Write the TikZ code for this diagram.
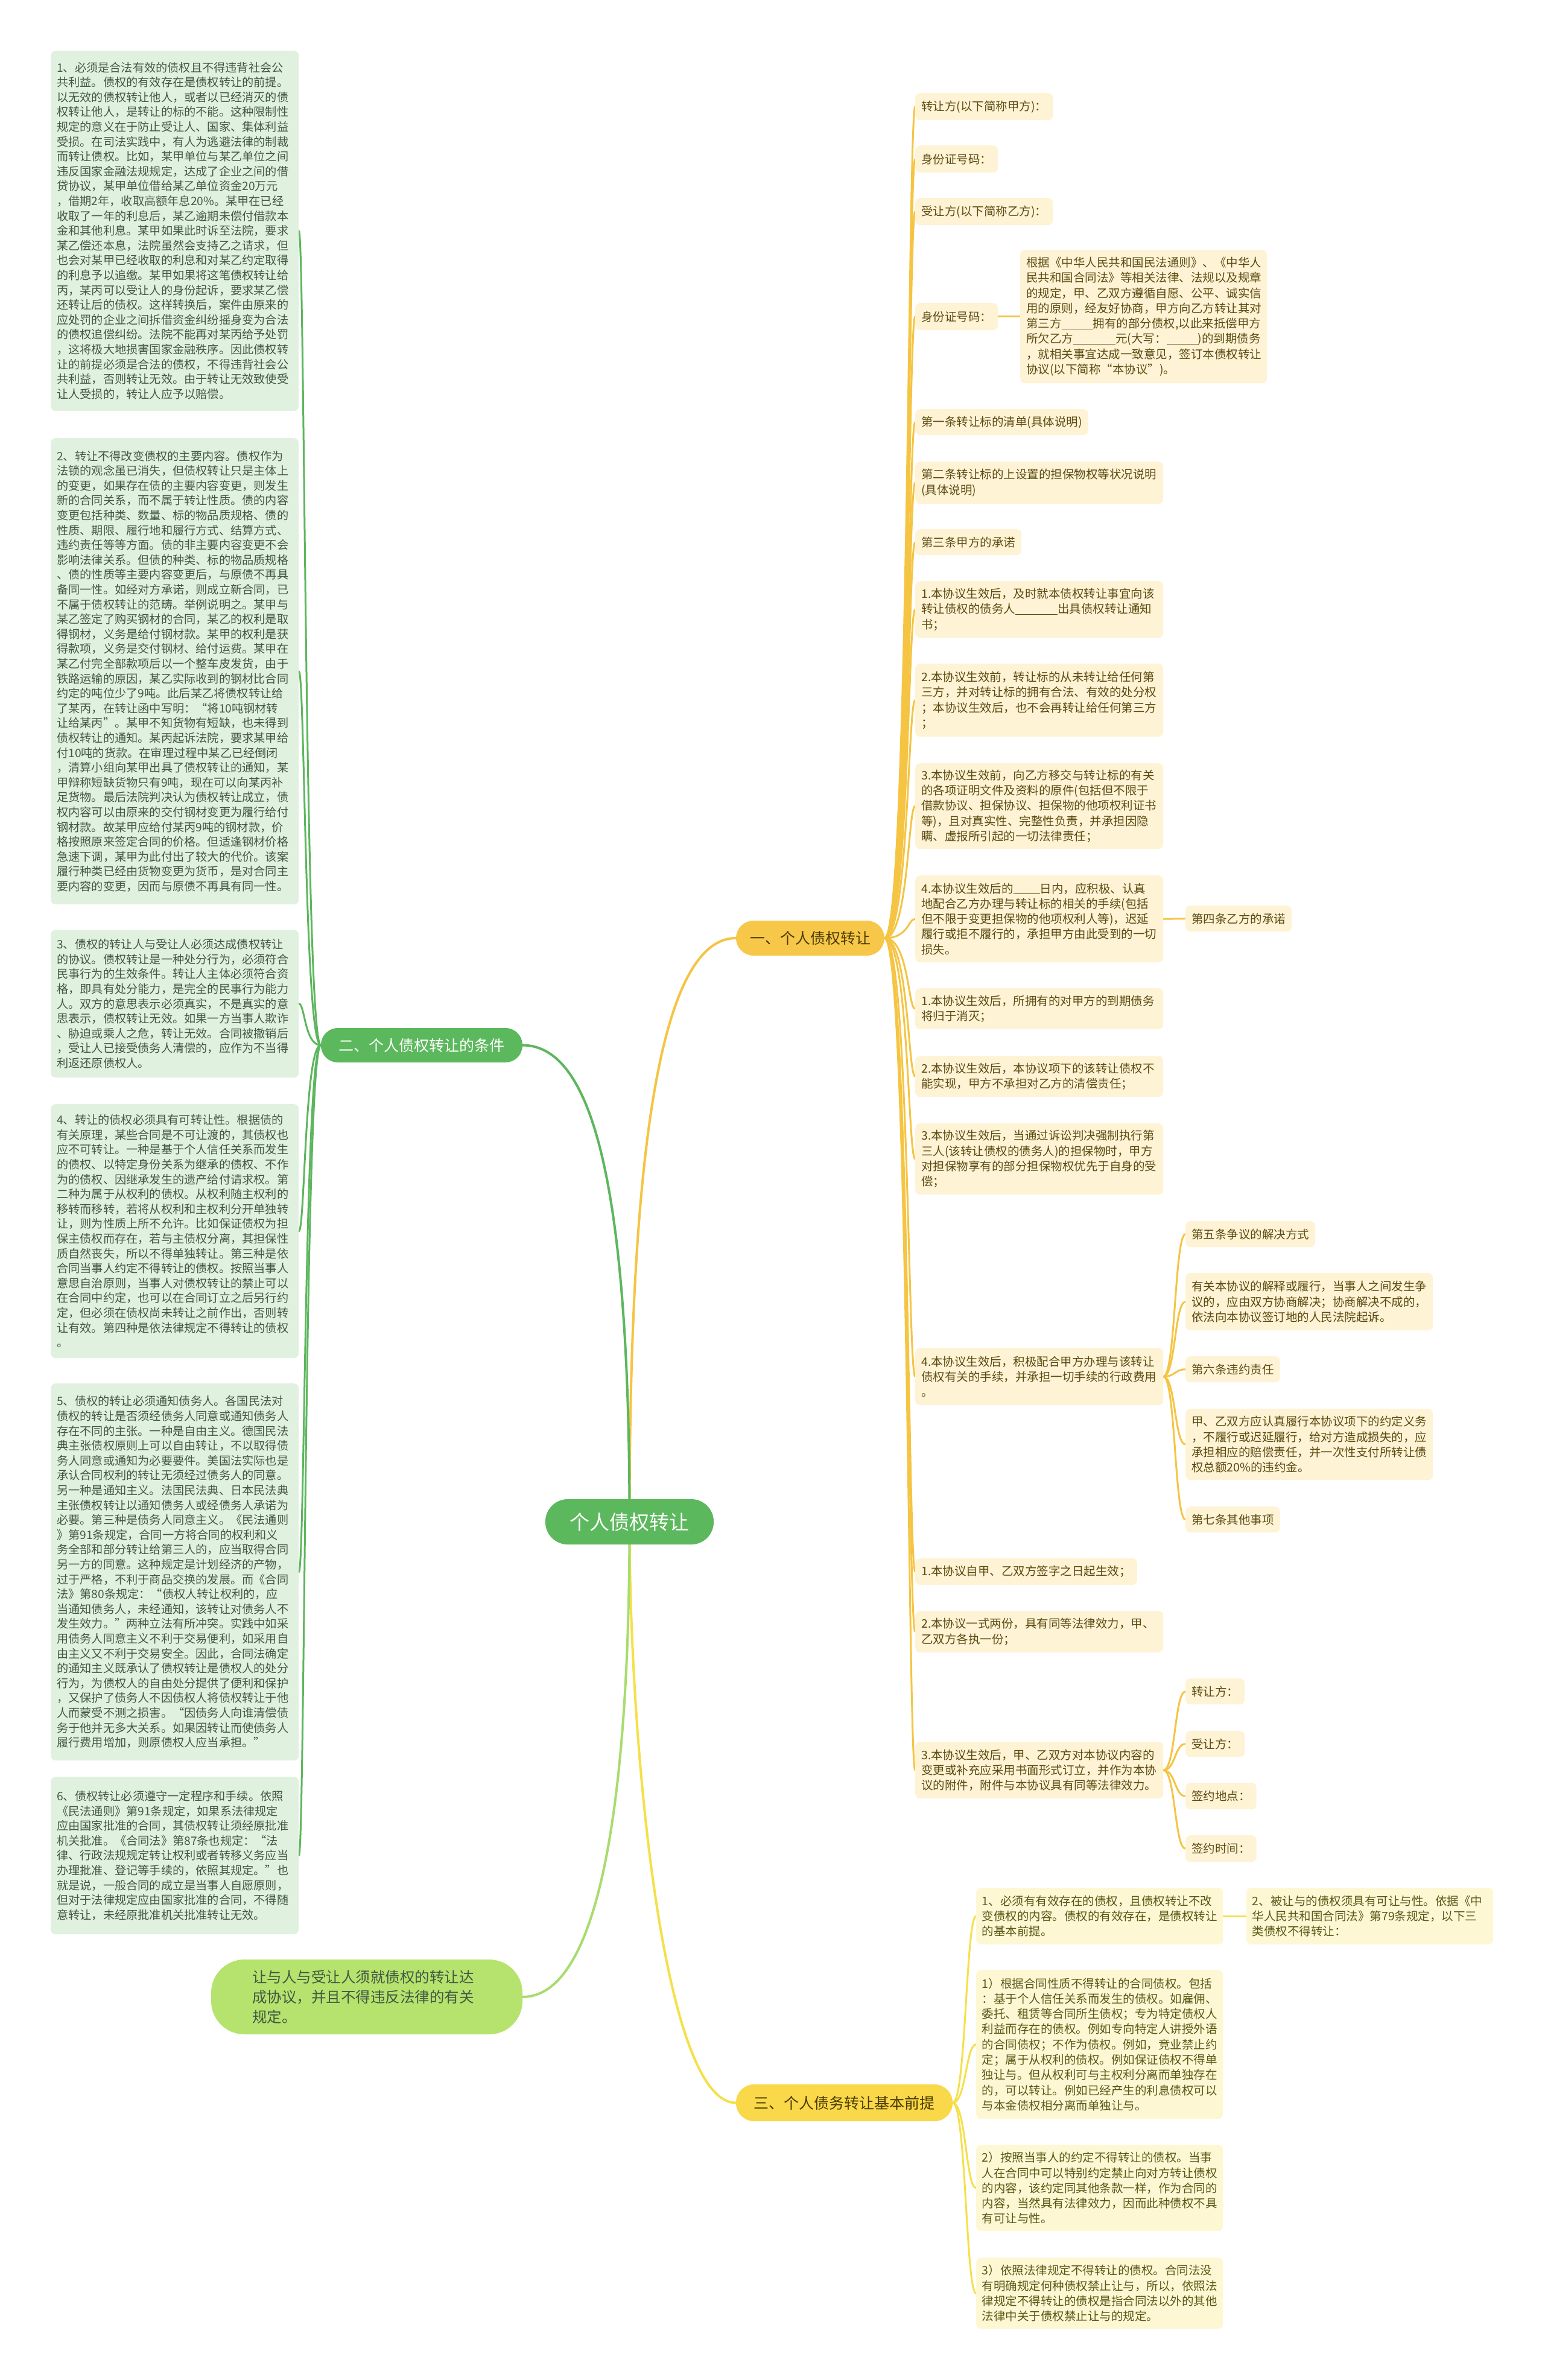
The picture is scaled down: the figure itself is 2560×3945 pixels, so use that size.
\documentclass[tikz,border=0pt]{standalone}
\usepackage{fontspec}
\newfontfamily\cjk{Noto Sans CJK SC}
\usetikzlibrary{calc}
\hyphenpenalty=10000 \exhyphenpenalty=10000
\definecolor{gmain}{HTML}{5CB85C}
\definecolor{gline}{HTML}{5DB65E}
\definecolor{limefill}{HTML}{B6E36E}
\definecolor{limeline}{HTML}{A8DC6E}
\definecolor{goldfill}{HTML}{F7C74A}
\definecolor{goldline}{HTML}{F5C443}
\definecolor{yelfill}{HTML}{F9D84A}
\definecolor{yelline}{HTML}{F5E04A}
\definecolor{lfill}{HTML}{E1F1DF}
\definecolor{ltext}{HTML}{425842}
\definecolor{rfill}{HTML}{FEF3D4}
\definecolor{rtext}{HTML}{5B4A12}
\definecolor{yfill}{HTML}{FDF8D3}
\definecolor{ytext}{HTML}{5A5716}
\definecolor{btext}{HTML}{4A3B00}
\newcommand{\ulfill}[1]{\rule[-0.12em]{#1}{1.3pt}}
\newcommand{\lfont}{\cjk\fontsize{19.2}{24.6}\selectfont}
\newcommand{\rfont}{\cjk\fontsize{19.5}{25.3}\selectfont}
\pgfdeclarelayer{bg}
\pgfsetlayers{bg,main}
\tikzset{
  lbox/.style={fill=lfill, rounded corners=8pt, text=ltext, font=\lfont, align=left, text width=391pt, inner xsep=10pt, inner ysep=0pt, anchor=north west},
  rbox/.style={fill=rfill, rounded corners=8pt, text=rtext, font=\rfont, align=left, inner xsep=10pt, inner ysep=0pt, anchor=north west},
  rwide/.style={rbox, text width=391pt},
  ybox/.style={fill=yfill, rounded corners=8pt, text=ytext, font=\rfont, align=left, text width=390pt, inner xsep=9.5pt, inner ysep=0pt, anchor=north west},
  mainnode/.style={fill=gmain, text=white, align=center, inner sep=0pt},
  treeline/.style={line width=3pt, line cap=round},
  rootline/.style={line width=4pt, line cap=round}
}
\begin{document}
\begin{tikzpicture}[x=1pt,y=-1pt]
\begin{pgfonlayer}{bg}
\fill[white] (0,0) rectangle (2560,3945);
\end{pgfonlayer}
\useasboundingbox (0,0) rectangle (2560,3945);

% ---------- main nodes ----------
\node[mainnode, rounded corners=37pt, minimum width=279pt, minimum height=75pt, font=\cjk\fontsize{33}{38}\selectfont] (root) at (1043.5,2522.5) {个人债权转让};
\node[mainnode, rounded corners=28pt, minimum width=334pt, minimum height=57pt, font=\cjk\fontsize{25}{30}\selectfont] (b2) at (699,1732.5) {二、个人债权转让的条件};
\node[fill=goldfill, text=btext, rounded corners=29pt, minimum width=246pt, minimum height=58pt, inner sep=0pt, font=\cjk\fontsize{25}{30}\selectfont] (b1) at (1343,1555) {一、个人债权转让};
\node[fill=yelfill, text=btext, rounded corners=30pt, minimum width=359pt, minimum height=61pt, inner sep=0pt, font=\cjk\fontsize{25}{30}\selectfont] (b3) at (1399.5,3485.5) {三、个人债务转让基本前提};
\node[fill=limefill, text=ltext, rounded corners=55pt, minimum width=516pt, minimum height=124pt, inner sep=0pt, text width=380pt, align=left, font=\cjk\fontsize{24.5}{33}\selectfont] (b4) at (608,3310) {让与人与受让人须就债权的转让达\\%
成协议，并且不得违反法律的有关\\%
规定。};

% ---------- left column ----------
\node[lbox, minimum height=597pt] (l1) at (84,84) {1、必须是合法有效的债权且不得违背社会公\\%
共利益。债权的有效存在是债权转让的前提。\\%
以无效的债权转让他人，或者以已经消灭的债\\%
权转让他人，是转让的标的不能。这种限制性\\%
规定的意义在于防止受让人、国家、集体利益\\%
受损。在司法实践中，有人为逃避法律的制裁\\%
而转让债权。比如，某甲单位与某乙单位之间\\%
违反国家金融法规规定，达成了企业之间的借\\%
贷协议，某甲单位借给某乙单位资金20万元\\%
，借期2年，收取高额年息20\%。某甲在已经\\%
收取了一年的利息后，某乙逾期未偿付借款本\\%
金和其他利息。某甲如果此时诉至法院，要求\\%
某乙偿还本息，法院虽然会支持乙之请求，但\\%
也会对某甲已经收取的利息和对某乙约定取得\\%
的利息予以追缴。某甲如果将这笔债权转让给\\%
丙，某丙可以受让人的身份起诉，要求某乙偿\\%
还转让后的债权。这样转换后，案件由原来的\\%
应处罚的企业之间拆借资金纠纷摇身变为合法\\%
的债权追偿纠纷。法院不能再对某丙给予处罚\\%
，这将极大地损害国家金融秩序。因此债权转\\%
让的前提必须是合法的债权，不得违背社会公\\%
共利益，否则转让无效。由于转让无效致使受\\%
让人受损的，转让人应予以赔偿。};

\node[lbox, minimum height=773pt] (l2) at (84,726) {2、转让不得改变债权的主要内容。债权作为\\%
法锁的观念虽已消失，但债权转让只是主体上\\%
的变更，如果存在债的主要内容变更，则发生\\%
新的合同关系，而不属于转让性质。债的内容\\%
变更包括种类、数量、标的物品质规格、债的\\%
性质、期限、履行地和履行方式、结算方式、\\%
违约责任等等方面。债的非主要内容变更不会\\%
影响法律关系。但债的种类、标的物品质规格\\%
、债的性质等主要内容变更后，与原债不再具\\%
备同一性。如经对方承诺，则成立新合同，已\\%
不属于债权转让的范畴。举例说明之。某甲与\\%
某乙签定了购买钢材的合同，某乙的权利是取\\%
得钢材，义务是给付钢材款。某甲的权利是获\\%
得款项，义务是交付钢材、给付运费。某甲在\\%
某乙付完全部款项后以一个整车皮发货，由于\\%
铁路运输的原因，某乙实际收到的钢材比合同\\%
约定的吨位少了9吨。此后某乙将债权转让给\\%
了某丙，在转让函中写明：“将10吨钢材转\\%
让给某丙”。某甲不知货物有短缺，也未得到\\%
债权转让的通知。某丙起诉法院，要求某甲给\\%
付10吨的货款。在审理过程中某乙已经倒闭\\%
，清算小组向某甲出具了债权转让的通知，某\\%
甲辩称短缺货物只有9吨，现在可以向某丙补\\%
足货物。最后法院判决认为债权转让成立，债\\%
权内容可以由原来的交付钢材变更为履行给付\\%
钢材款。故某甲应给付某丙9吨的钢材款，价\\%
格按照原来签定合同的价格。但适逢钢材价格\\%
急速下调，某甲为此付出了较大的代价。该案\\%
履行种类已经由货物变更为货币，是对合同主\\%
要内容的变更，因而与原债不再具有同一性。};

\node[lbox, minimum height=245pt] (l3) at (84,1541) {3、债权的转让人与受让人必须达成债权转让\\%
的协议。债权转让是一种处分行为，必须符合\\%
民事行为的生效条件。转让人主体必须符合资\\%
格，即具有处分能力，是完全的民事行为能力\\%
人。双方的意思表示必须真实，不是真实的意\\%
思表示，债权转让无效。如果一方当事人欺诈\\%
、胁迫或乘人之危，转让无效。合同被撤销后\\%
，受让人已接受债务人清偿的，应作为不当得\\%
利返还原债权人。};

\node[lbox, minimum height=421pt] (l4) at (84,1830) {4、转让的债权必须具有可转让性。根据债的\\%
有关原理，某些合同是不可让渡的，其债权也\\%
应不可转让。一种是基于个人信任关系而发生\\%
的债权、以特定身份关系为继承的债权、不作\\%
为的债权、因继承发生的遗产给付请求权。第\\%
二种为属于从权利的债权。从权利随主权利的\\%
移转而移转，若将从权利和主权利分开单独转\\%
让，则为性质上所不允许。比如保证债权为担\\%
保主债权而存在，若与主债权分离，其担保性\\%
质自然丧失，所以不得单独转让。第三种是依\\%
合同当事人约定不得转让的债权。按照当事人\\%
意思自治原则，当事人对债权转让的禁止可以\\%
在合同中约定，也可以在合同订立之后另行约\\%
定，但必须在债权尚未转让之前作出，否则转\\%
让有效。第四种是依法律规定不得转让的债权\\%
。};

\node[lbox, minimum height=625pt] (l5) at (84,2293) {5、债权的转让必须通知债务人。各国民法对\\%
债权的转让是否须经债务人同意或通知债务人\\%
存在不同的主张。一种是自由主义。德国民法\\%
典主张债权原则上可以自由转让，不以取得债\\%
务人同意或通知为必要要件。美国法实际也是\\%
承认合同权利的转让无须经过债务人的同意。\\%
另一种是通知主义。法国民法典、日本民法典\\%
主张债权转让以通知债务人或经债务人承诺为\\%
必要。第三种是债务人同意主义。《民法通则\\%
》第91条规定，合同一方将合同的权利和义\\%
务全部和部分转让给第三人的，应当取得合同\\%
另一方的同意。这种规定是计划经济的产物，\\%
过于严格，不利于商品交换的发展。而《合同\\%
法》第80条规定：“债权人转让权利的，应\\%
当通知债务人，未经通知，该转让对债务人不\\%
发生效力。”两种立法有所冲突。实践中如采\\%
用债务人同意主义不利于交易便利，如采用自\\%
由主义又不利于交易安全。因此，合同法确定\\%
的通知主义既承认了债权转让是债权人的处分\\%
行为，为债权人的自由处分提供了便利和保护\\%
，又保护了债务人不因债权人将债权转让于他\\%
人而蒙受不测之损害。“因债务人向谁清偿债\\%
务于他并无多大关系。如果因转让而使债务人\\%
履行费用增加，则原债权人应当承担。”};

\node[lbox, minimum height=261pt] (l6) at (84,2945) {6、债权转让必须遵守一定程序和手续。依照\\%
《民法通则》第91条规定，如果系法律规定\\%
应由国家批准的合同，其债权转让须经原批准\\%
机关批准。《合同法》第87条也规定：“法\\%
律、行政法规规定转让权利或者转移义务应当\\%
办理批准、登记等手续的，依照其规定。”也\\%
就是说，一般合同的成立是当事人自愿原则，\\%
但对于法律规定应由国家批准的合同，不得随\\%
意转让，未经原批准机关批准转让无效。};

% ---------- right column (branch 1) ----------
\node[rbox, minimum height=45pt] (c1) at (1517,154) {转让方(以下简称甲方)：};
\node[rbox, minimum height=45pt] (c2) at (1517,241) {身份证号码：};
\node[rbox, minimum height=45pt] (c3) at (1517,328) {受让方(以下简称乙方)：};
\node[rbox, minimum height=45pt] (c4) at (1517,502) {身份证号码：};
\node[rbox, text width=389pt, minimum height=221pt] (c4x) at (1691,414) {根据《中华人民共和国民法通则》、《中华人\\%
民共和国合同法》等相关法律、法规以及规章\\%
的规定，甲、乙双方遵循自愿、公平、诚实信\\%
用的原则，经友好协商，甲方向乙方转让其对\\%
第三方\ulfill{52pt}拥有的部分债权,以此来抵偿甲方\\%
所欠乙方\ulfill{70pt}元(大写：\ulfill{52pt})的到期债务\\%
，就相关事宜达成一致意见，签订本债权转让\\%
协议(以下简称“本协议”)。};
\node[rbox, minimum height=43pt] (c5) at (1517,678) {第一条转让标的清单(具体说明)};
\node[rwide, minimum height=70pt] (c6) at (1517,765) {第二条转让标的上设置的担保物权等状况说明\\%
(具体说明)};
\node[rbox, minimum height=43pt] (c7) at (1517,877) {第三条甲方的承诺};
\node[rwide, minimum height=94pt] (c8) at (1517,963) {1.本协议生效后，及时就本债权转让事宜向该\\%
转让债权的债务人\ulfill{70pt}出具债权转让通知\\%
书；};
\node[rwide, minimum height=121pt] (c9) at (1517,1100) {2.本协议生效前，转让标的从未转让给任何第\\%
三方，并对转让标的拥有合法、有效的处分权\\%
；本协议生效后，也不会再转让给任何第三方\\%
；};
\node[rwide, minimum height=142pt] (c10) at (1517,1265) {3.本协议生效前，向乙方移交与转让标的有关\\%
的各项证明文件及资料的原件(包括但不限于\\%
借款协议、担保协议、担保物的他项权利证书\\%
等)，且对真实性、完整性负责，并承担因隐\\%
瞒、虚报所引起的一切法律责任；};
\node[rwide, minimum height=144pt] (c11) at (1517,1451) {4.本协议生效后的\ulfill{44pt}日内，应积极、认真\\%
地配合乙方办理与转让标的相关的手续(包括\\%
但不限于变更担保物的他项权利人等)，迟延\\%
履行或拒不履行的，承担甲方由此受到的一切\\%
损失。};
\node[rbox, minimum height=43pt] (c11x) at (1965,1501) {第四条乙方的承诺};
\node[rwide, minimum height=68pt] (c12) at (1517,1638) {1.本协议生效后，所拥有的对甲方的到期债务\\%
将归于消灭；};
\node[rwide, minimum height=68pt] (c13) at (1517,1750) {2.本协议生效后，本协议项下的该转让债权不\\%
能实现，甲方不承担对乙方的清偿责任；};
\node[rwide, minimum height=118pt] (c14) at (1517,1862) {3.本协议生效后，当通过诉讼判决强制执行第\\%
三人(该转让债权的债务人)的担保物时，甲方\\%
对担保物享有的部分担保物权优先于自身的受\\%
偿；};
\node[rwide, minimum height=95pt] (c15) at (1517,2234) {4.本协议生效后，积极配合甲方办理与该转让\\%
债权有关的手续，并承担一切手续的行政费用\\%
。};
\node[rbox, minimum height=43pt] (d1) at (1965,2024) {第五条争议的解决方式};
\node[rbox, text width=390pt, minimum height=95pt] (d2) at (1965,2110) {有关本协议的解释或履行，当事人之间发生争\\%
议的，应由双方协商解决；协商解决不成的，\\%
依法向本协议签订地的人民法院起诉。};
\node[rbox, minimum height=43pt] (d3) at (1965,2248) {第六条违约责任};
\node[rbox, text width=390pt, minimum height=118pt] (d4) at (1965,2335) {甲、乙双方应认真履行本协议项下的约定义务\\%
，不履行或迟延履行，给对方造成损失的，应\\%
承担相应的赔偿责任，并一次性支付所转让债\\%
权总额20\%的违约金。};
\node[rbox, minimum height=43pt] (d5) at (1965,2497) {第七条其他事项};
\node[rbox, minimum height=44pt] (c16) at (1517,2583) {1.本协议自甲、乙双方签字之日起生效；};
\node[rwide, minimum height=69pt] (c17) at (1517,2670) {2.本协议一式两份，具有同等法律效力，甲、\\%
乙双方各执一份；};
\node[rwide, minimum height=94pt] (c18) at (1517,2887) {3.本协议生效后，甲、乙双方对本协议内容的\\%
变更或补充应采用书面形式订立，并作为本协\\%
议的附件，附件与本协议具有同等法律效力。};
\node[rbox, minimum height=43pt] (e1) at (1965,2782) {转让方：};
\node[rbox, minimum height=43pt] (e2) at (1965,2869) {受让方：};
\node[rbox, minimum height=44pt] (e3) at (1965,2955) {签约地点：};
\node[rbox, minimum height=44pt] (e4) at (1965,3042) {签约时间：};

% ---------- branch 3 ----------
\node[ybox, minimum height=94pt] (f1) at (1618,3129) {1、必须有有效存在的债权，且债权转让不改\\%
变债权的内容。债权的有效存在，是债权转让\\%
的基本前提。};
\node[ybox, minimum height=94pt] (f1x) at (2066,3129) {2、被让与的债权须具有可让与性。依据《中\\%
华人民共和国合同法》第79条规定，以下三\\%
类债权不得转让：};
\node[ybox, minimum height=247pt] (f2) at (1618,3265) {1）根据合同性质不得转让的合同债权。包括\\%
：基于个人信任关系而发生的债权。如雇佣、\\%
委托、租赁等合同所生债权；专为特定债权人\\%
利益而存在的债权。例如专向特定人讲授外语\\%
的合同债权；不作为债权。例如，竞业禁止约\\%
定；属于从权利的债权。例如保证债权不得单\\%
独让与。但从权利可与主权利分离而单独存在\\%
的，可以转让。例如已经产生的利息债权可以\\%
与本金债权相分离而单独让与。};
\node[ybox, minimum height=143pt] (f3) at (1618,3555) {2）按照当事人的约定不得转让的债权。当事\\%
人在合同中可以特别约定禁止向对方转让债权\\%
的内容，该约定同其他条款一样，作为合同的\\%
内容，当然具有法律效力，因而此种债权不具\\%
有可让与性。};
\node[ybox, minimum height=118pt] (f4) at (1618,3742) {3）依照法律规定不得转让的债权。合同法没\\%
有明确规定何种债权禁止让与，所以，依照法\\%
律规定不得转让的债权是指合同法以外的其他\\%
法律中关于债权禁止让与的规定。};

% ---------- connectors ----------
\begin{pgfonlayer}{bg}
\draw[rootline, draw=goldline] (root.center) .. controls +(0,-522) and +(-140,0) .. (b1.west);
\draw[rootline, draw=gline] (root.center) .. controls +(0,-522) and +(124,0) .. (b2.east);
\draw[rootline, draw=yelline] (root.center) .. controls +(0,378) and +(-120,0) .. (b3.west);
\draw[rootline, draw=limeline] (root.center) .. controls +(0,478) and +(124,0) .. (b4.east);

\foreach \n in {l1,l2,l3,l4,l5,l6}
  \draw[treeline, draw=gline] (b2.west) .. controls +(-27,0) and ([xshift=10pt]\n.east) .. (\n.east);

\foreach \n in {c1,c2,c3,c4,c5,c6,c7,c8,c9,c10,c11,c12,c13,c14,c15,c16,c17,c18}
  \draw[treeline, draw=goldline] (b1.east) .. controls +(40,0) and ([xshift=-12pt]\n.west) .. (\n.west);

\draw[treeline, draw=goldline] (c4.east) -- (c4x.west);
\draw[treeline, draw=goldline] (c11.east) -- (c11x.west);

\foreach \n in {d1,d2,d3,d4,d5}
  \draw[treeline, draw=goldline] (c15.east) .. controls +(20,0) and ([xshift=-18pt]\n.west) .. (\n.west);
\foreach \n in {e1,e2,e3,e4}
  \draw[treeline, draw=goldline] (c18.east) .. controls +(20,0) and ([xshift=-18pt]\n.west) .. (\n.west);

\foreach \n in {f1,f2,f3,f4}
  \draw[treeline, draw=yelline] (b3.east) .. controls +(22,0) and ([xshift=-17pt]\n.west) .. (\n.west);
\draw[treeline, draw=yelline] (f1.east) -- (f1x.west);
\end{pgfonlayer}
\end{tikzpicture}
\end{document}
